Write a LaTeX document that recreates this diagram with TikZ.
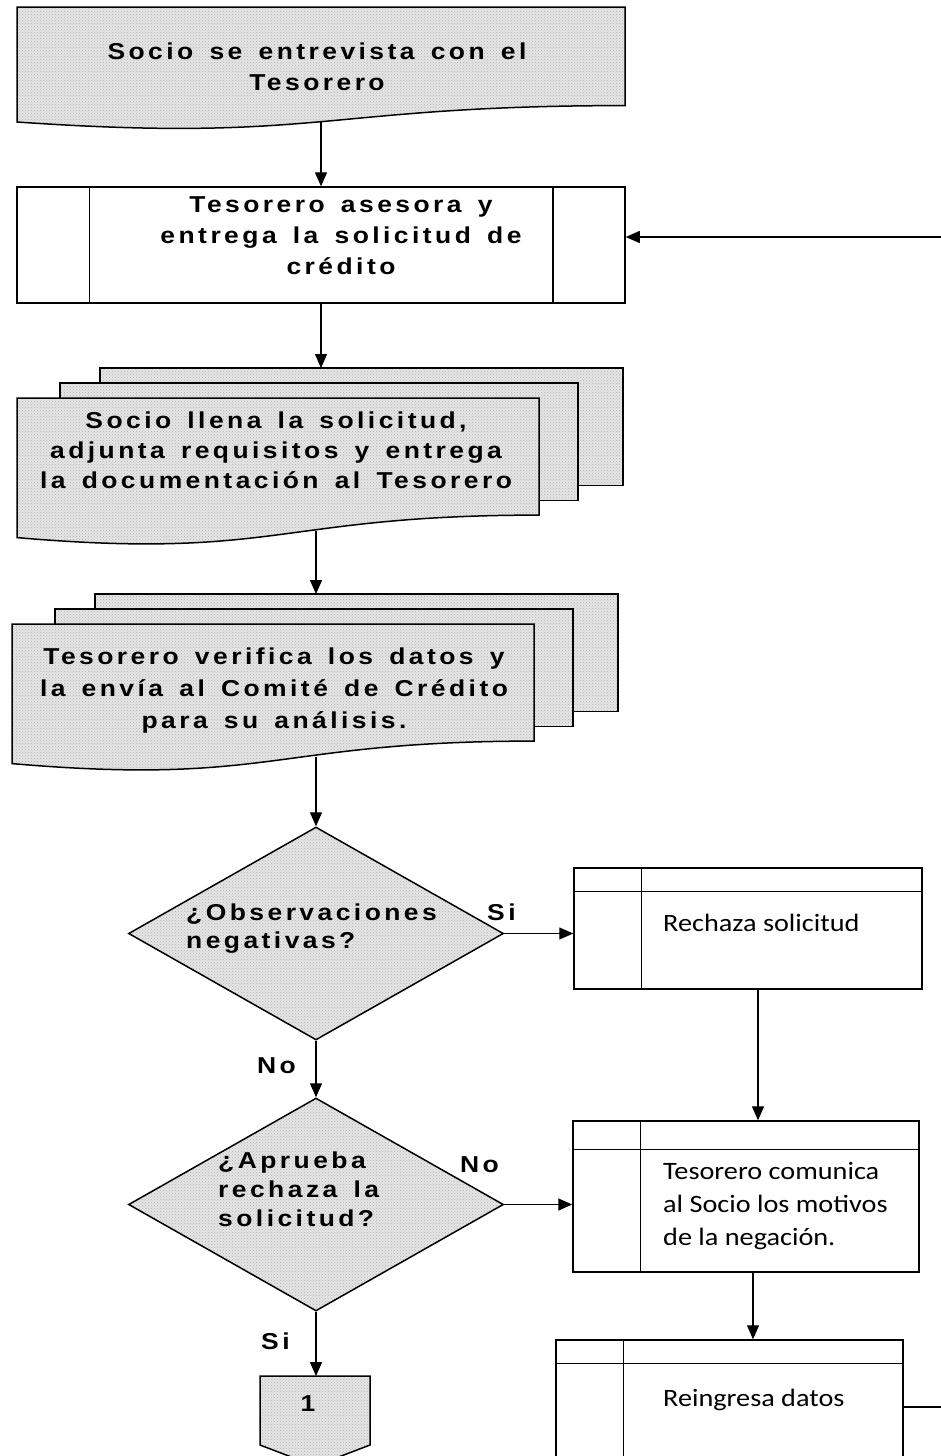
\documentclass[tikz,border=0pt]{standalone}
\usepackage{fontspec}
\usetikzlibrary{arrows.meta,patterns,shapes.geometric,calc}
\newfontfamily\flowfont[LetterSpace=15, FakeStretch=1.15, WordSpace=1.5]{Liberation Sans}
\newfontfamily\notefont[FakeStretch=1.13]{Carlito}

\tikzset{
  edge/.style={line width=1.4pt, draw=black},
  flow/.style={edge, -{Triangle[width=12pt,length=14pt]}},
  shaded/.style={preaction={fill=gray!20}, pattern=crosshatch dots, pattern color=gray!60},
  outline/.style={line width=1.5pt, draw=black, line join=miter},
  boldtext/.style={font=\flowfont\bfseries\fontsize{23}{31}\selectfont, inner sep=0pt},
  notetext/.style={font=\notefont\fontsize{25}{33}\selectfont, inner sep=0pt},
  taskbox/.style={rectangle, outline, fill=white, inner sep=0pt},
  decision/.style={diamond, shaded, outline, inner sep=0pt,
    minimum width=375pt, minimum height=213pt},
  multidoc/.pic={
    \path[shaded, outline] (83,0) rectangle (606,117.5);
    \path[shaded, outline] (43,15) rectangle (561,132.7);
    \path[shaded, outline] (0,30) -- (522,30) -- (522,147.1)
      .. controls (261,147.1) and (261,192.1) .. (0,169.6) -- cycle;
  }
}

\begin{document}
\begin{tikzpicture}[x=1pt, y=-1pt]
\useasboundingbox (0,0) rectangle (941,1456);

% opening document
\path[shaded, outline] (17,7) -- (625,7) -- (625,105.6)
  .. controls (321,105.6) and (321,143) .. (17,122) -- cycle;
\coordinate (docA) at (321,122);
\node[boldtext, align=center, anchor=north] (docAText) at (317,42.5)
  {Socio se entrevista con el\\Tesorero};

% predefined process
\node[taskbox, minimum width=608pt, minimum height=116pt] (asesora) at (321,245) {};
\draw[outline] ([xshift=73pt]asesora.north west) -- ([xshift=73pt]asesora.south west);
\draw[outline] ([xshift=-73pt]asesora.north east) -- ([xshift=-73pt]asesora.south east);
\node[boldtext, align=center, anchor=north] (asesoraText) at (341,196.5)
  {Tesorero asesora y\\entrega la solicitud de\\crédito};

% stacked documents
\pic at (17,368) {multidoc};
\coordinate (solTop) at (321,368);
\coordinate (solBot) at (316,531);
\node[boldtext, align=center, anchor=north, font=\flowfont\bfseries\fontsize{23}{30}\selectfont]
  (solText) at (276,411.5)
  {Socio llena la solicitud,\\adjunta requisitos y entrega\\la documentación al Tesorero};

\pic at (12,594) {multidoc};
\coordinate (verTop) at (316,594);
\coordinate (verBot) at (316,757);
\node[boldtext, align=center, anchor=north, font=\flowfont\bfseries\fontsize{23}{32}\selectfont]
  (verText) at (274,648)
  {Tesorero verifica los datos y\\la envía al Comité de Crédito\\para su análisis.};

% decisions
\node[decision] (obs) at (316,933.5) {};
\node[boldtext, align=left, anchor=north west, font=\flowfont\bfseries\fontsize{23}{28}\selectfont]
  (obsText) at (186,903.5) {¿Observaciones\\negativas?};
\node[decision] (apr) at (316,1204.5) {};
\node[boldtext, align=left, anchor=north west, font=\flowfont\bfseries\fontsize{23}{29}\selectfont]
  (aprText) at (218,1151.5) {¿Aprueba\\rechaza la\\solicitud?};

\node[boldtext, anchor=base west] (siA) at (487,920) {Si};
\node[boldtext, anchor=base west] (noA) at (257,1073) {No};
\node[boldtext, anchor=base west] (noB) at (460,1172) {No};
\node[boldtext, anchor=base west] (siB) at (261,1349) {Si};

% right-hand tasks
\node[taskbox, minimum width=348pt, minimum height=121pt] (rech) at (748,928.5) {};
\draw[outline] ([yshift=-24pt]rech.north west) -- ([yshift=-24pt]rech.north east);
\draw[outline] ([xshift=68pt]rech.north west) -- ([xshift=68pt]rech.south west);
\node[notetext, anchor=base west] (rechText) at (663,931) {Rechaza solicitud};
\coordinate (rechOut) at (758,989);

\node[taskbox, minimum width=346pt, minimum height=151pt] (com) at (746,1196.5) {};
\draw[outline] ([yshift=-29pt]com.north west) -- ([yshift=-29pt]com.north east);
\draw[outline] ([xshift=68pt]com.north west) -- ([xshift=68pt]com.south west);
\node[notetext, align=left, anchor=north west] (comText) at (663,1162)
  {Tesorero comunica\\al Socio los motivos\\de la negación.};
\coordinate (comOut) at (753,1272);

\node[taskbox, minimum width=347pt, minimum height=134pt] (rein) at (729.5,1407) {};
\draw[outline] ([yshift=-24pt]rein.north west) -- ([yshift=-24pt]rein.north east);
\draw[outline] ([xshift=68pt]rein.north west) -- ([xshift=68pt]rein.south west);
\node[notetext, anchor=base west] (reinText) at (663,1406) {Reingresa datos};

% off-page connector
\path[shaded, outline] (260,1376) -- (370,1376) -- (370,1445) -- (315,1466) -- (260,1445) -- cycle;
\coordinate (offTop) at (316,1376);
\node[boldtext, anchor=base] (offNum) at (308,1411) {1};

% connectors
\draw[flow] (docA) -- (docA |- asesora.north);
\draw[flow] (asesora.south) -- (solTop);
\draw[flow] (solBot) -- (verTop);
\draw[flow] (verBot) -- (obs.north);
\draw[flow] (obs.east) -- (obs.east -| rech.west);
\draw[flow] (obs.south) -- (apr.north);
\draw[flow] (apr.east) -- (apr.east -| com.west);
\draw[flow] (apr.south) -- (offTop);
\draw[flow] (rechOut) -- (rechOut |- com.north);
\draw[flow] (comOut) -- (comOut |- rein.north);
\coordinate (loopR) at (960,1407);
\coordinate (loopT) at (960,237);
\draw[flow] (rein.east) -- (loopR) -- (loopT) -- (loopT -| asesora.east);
\end{tikzpicture}
\end{document}
